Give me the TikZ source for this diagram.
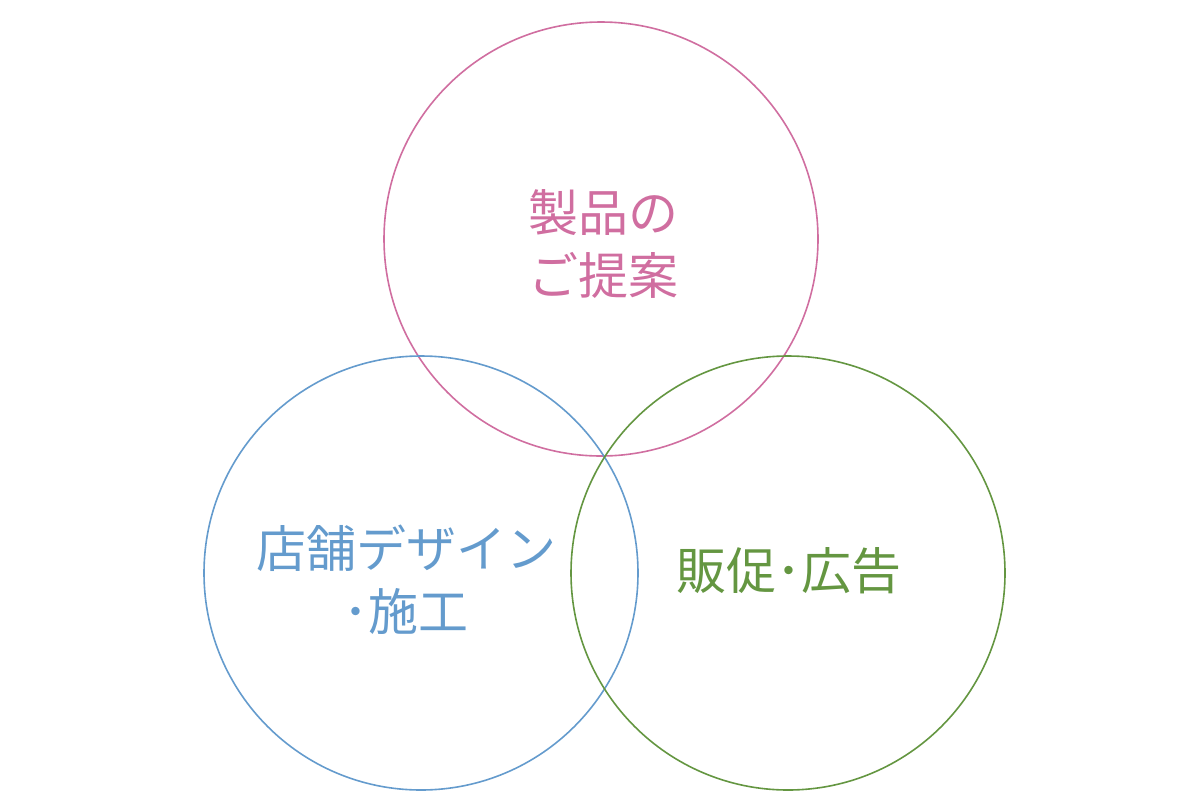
\documentclass[tikz,border=0pt]{standalone}
\usepackage{fontspec}
\newfontfamily\cjk{Noto Sans CJK JP}
\definecolor{cpink}{RGB}{208,110,160}
\definecolor{cblue}{RGB}{100,155,205}
\definecolor{cgreen}{RGB}{100,150,65}
\begin{document}
\begin{tikzpicture}[x=1pt,y=-1pt,
  ring/.style={draw,line width=1.6pt,circle,minimum size=434pt,inner sep=0pt},
  lbl/.style={font=\cjk\fontsize{50}{63}\selectfont,align=center,inner sep=0pt}]
\useasboundingbox (0,0) rectangle (1200,807);
\node[ring,draw=cpink] (pink) at (601,239) {};
\node[ring,draw=cblue] (blue) at (421,573) {};
\node[ring,draw=cgreen] (green) at (788,573) {};
\node[lbl,text=cpink] (tp) at (603,244) {製品の\\ご提案};
\node[lbl,text=cblue] (tb) at (406,580) {店舗デザイン\\･施工};
\node[lbl,text=cgreen] (tg) at (789,571) {販促･広告};
\end{tikzpicture}
\end{document}
